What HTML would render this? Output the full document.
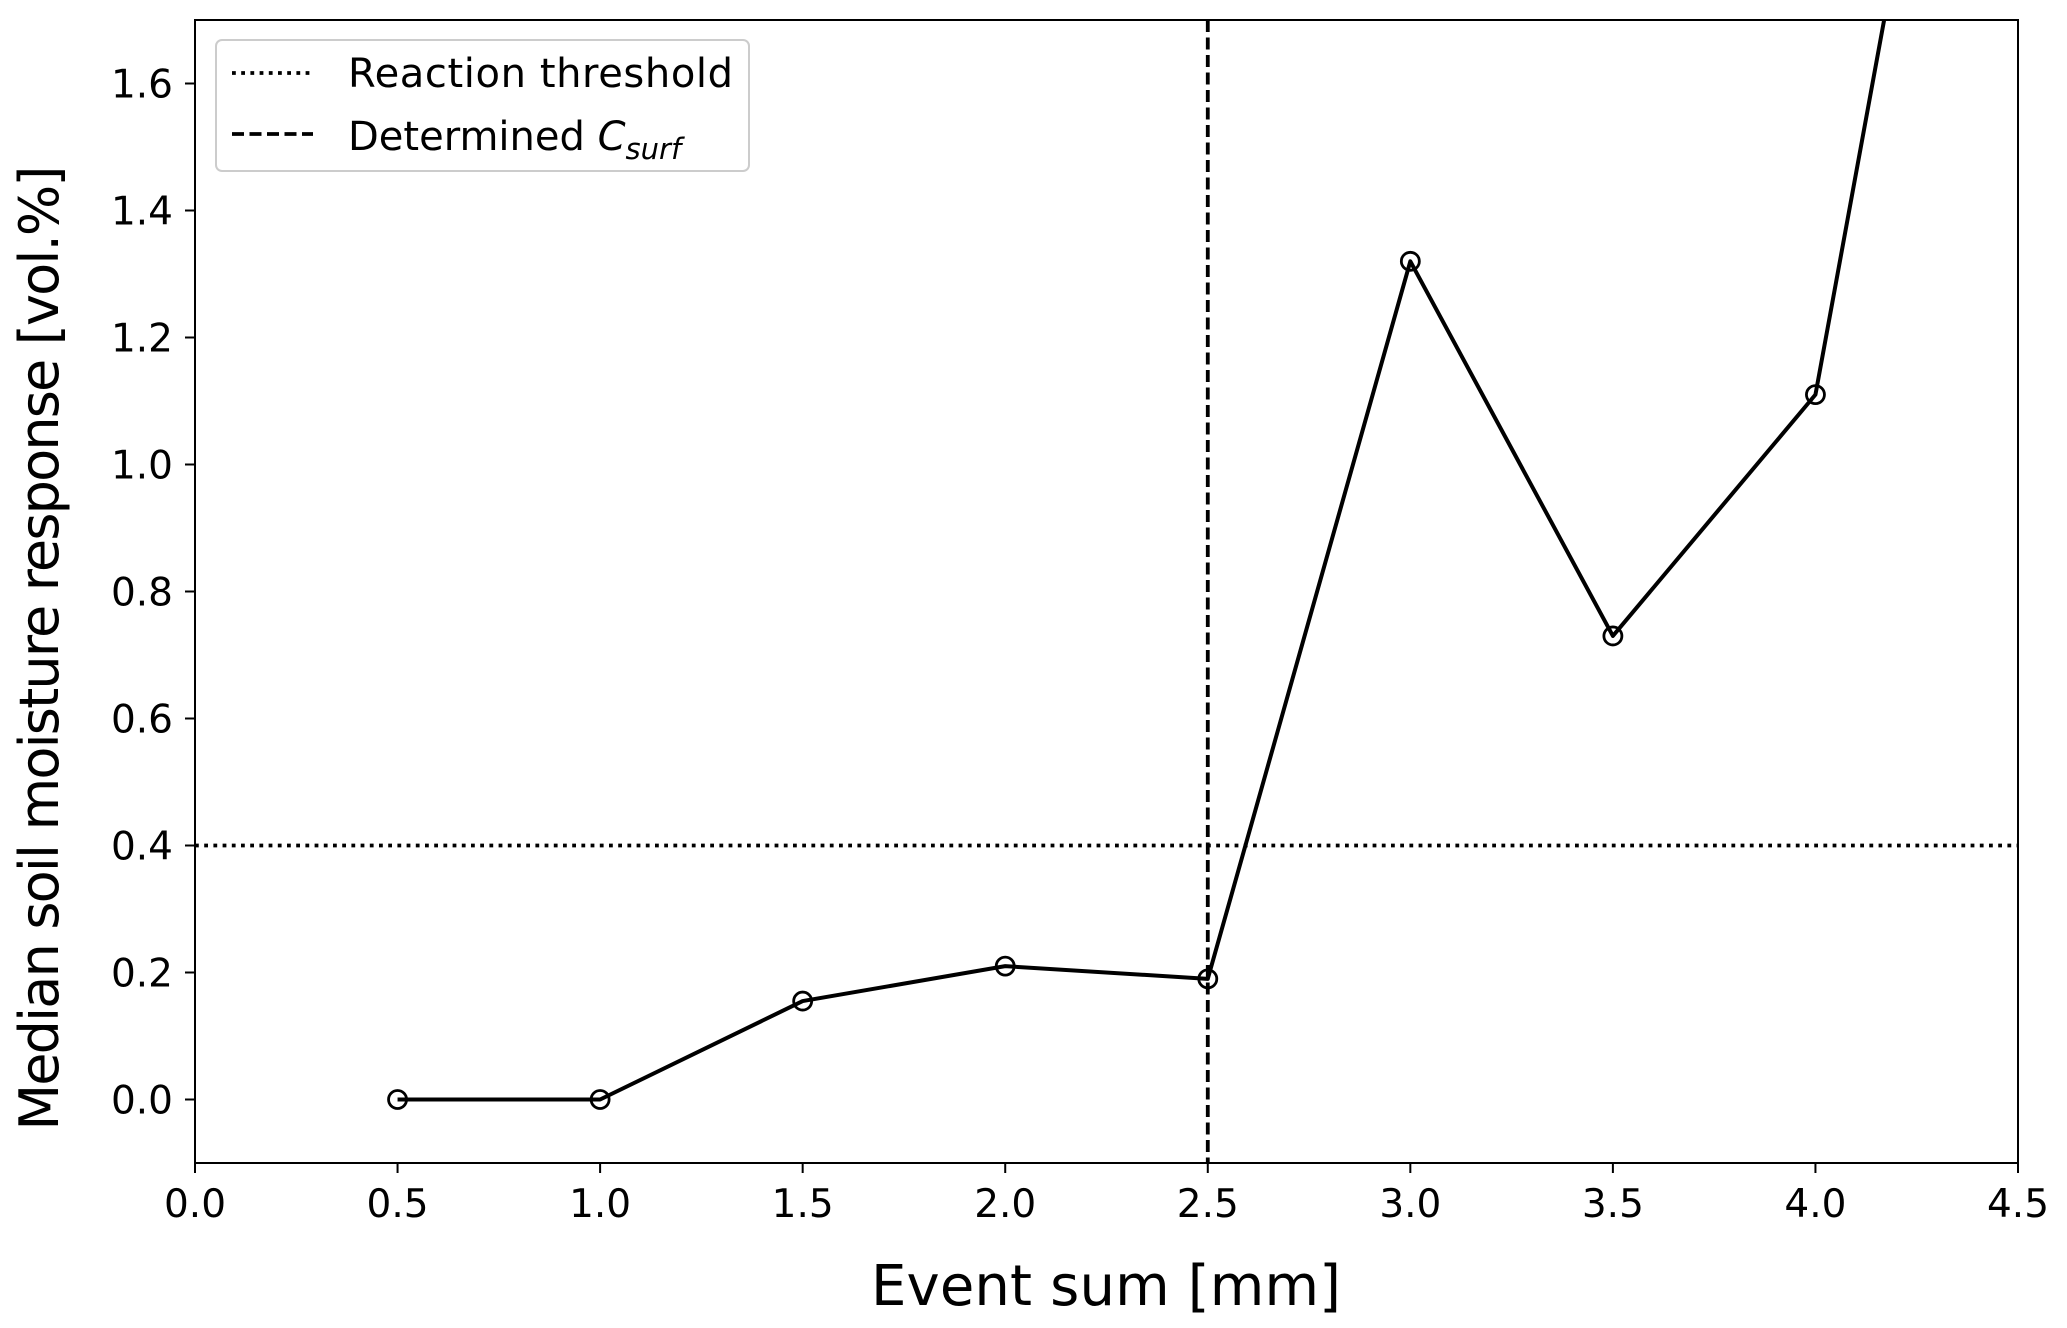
<!DOCTYPE html>
<html><head><meta charset="utf-8"><style>
html,body{margin:0;padding:0;background:#fff;}
svg{display:block;font-family:"DejaVu Sans","Liberation Sans",sans-serif;}
</style></head><body>
<svg id="chart" width="2067" height="1328" viewBox="0 0 2067 1328" xmlns="http://www.w3.org/2000/svg">
<defs><clipPath id="plotclip"><rect x="195" y="20" width="1823" height="1143"/></clipPath></defs>
<g id="marks" clip-path="url(#plotclip)"></g>
<rect x="195" y="20" width="1823" height="1143" fill="none" stroke="#000" stroke-width="2"/>
<g id="axes"></g>
<text x="1106" y="1305" font-size="56" text-anchor="middle" textLength="470">Event sum [mm]</text>
<text transform="translate(58,648) rotate(-90)" font-size="54" text-anchor="middle" textLength="965">Median soil moisture response [vol.%]</text>
<g>
<rect x="216" y="40" width="533" height="131" rx="6" fill="#fff" fill-opacity="0.8" stroke="#ccc" stroke-width="2"/>
<line x1="232" y1="73" x2="313" y2="73" stroke="#000" stroke-width="3.8" stroke-dasharray="3.8,5.4"/>
<text x="348" y="87" font-size="40" textLength="385">Reaction threshold</text>
<line x1="232" y1="134" x2="313" y2="134" stroke="#000" stroke-width="3.8" stroke-dasharray="12,5.5"/>
<text x="348" y="150" font-size="40">Determined <tspan font-style="italic">C</tspan><tspan font-style="italic" font-size="29" dy="9">surf</tspan></text>
</g>
</svg>
<script>
const xs = [0.5, 1.0, 1.5, 2.0, 2.5, 3.0, 3.5, 4.0, 4.5];
const ys = [0.0, 0.0, 0.155, 0.21, 0.19, 1.32, 0.73, 1.11, 2.85];
const xTicks = [0.0, 0.5, 1.0, 1.5, 2.0, 2.5, 3.0, 3.5, 4.0, 4.5];
const yTicks = [0.0, 0.2, 0.4, 0.6, 0.8, 1.0, 1.2, 1.4, 1.6];
const threshold = [0.4];
const csurf = [2.5];
const NS = "http://www.w3.org/2000/svg";
const L = 195, R = 2018, T = 20, B = 1163;
const xMin = 0, xMax = 4.5, yMin = -0.1, yMax = 1.7;
const sx = v => L + (v - xMin) / (xMax - xMin) * (R - L);
const sy = v => B - (v - yMin) / (yMax - yMin) * (B - T);
function mk(tag, attrs, parent) {
  const e = document.createElementNS(NS, tag);
  for (const k in attrs) e.setAttribute(k, attrs[k]);
  parent.appendChild(e);
  return e;
}
const axes = document.getElementById('axes');
const marks = document.getElementById('marks');
xTicks.forEach(t => {
  const ln = mk('line', {x1: sx(t), x2: sx(t), y1: B, y2: B + 10, stroke: '#000', 'stroke-width': 2}, axes);
  
  
  const tx = mk('text', {x: sx(t), y: B + 54, 'font-size': 39, 'text-anchor': 'middle'}, axes);
  tx.textContent = t.toFixed(1);
  
  
});
yTicks.forEach(t => {
  const ln = mk('line', {x1: L - 10, x2: L, y1: sy(t), y2: sy(t), stroke: '#000', 'stroke-width': 2}, axes);
  
  
  const tx = mk('text', {x: L - 22, y: sy(t) + 14, 'font-size': 39, 'text-anchor': 'end'}, axes);
  tx.textContent = t.toFixed(1);
  
  
});
threshold.forEach(v => {
  const ln = mk('line', {x1: L, x2: R, y1: sy(v), y2: sy(v), stroke: '#000', 'stroke-width': 3.8, 'stroke-dasharray': '3.8,5.4'}, marks);
  
  
});
csurf.forEach(v => {
  const ln = mk('line', {x1: sx(v), x2: sx(v), y1: T, y2: B, stroke: '#000', 'stroke-width': 3.8, 'stroke-dasharray': '12,5.5'}, marks);
  
  
});
const pts = xs.map((x, i) => sx(x) + ',' + sy(ys[i])).join(' ');
const pl = mk('polyline', {points: pts, fill: 'none', stroke: '#000', 'stroke-width': 4, 'stroke-linejoin': 'round'}, marks);


xs.forEach((x, i) => {
  const c = mk('circle', {cx: sx(x), cy: sy(ys[i]), r: 9, fill: 'none', stroke: '#000', 'stroke-width': 2.8}, marks);
  
  
});
</script>
</body></html>
